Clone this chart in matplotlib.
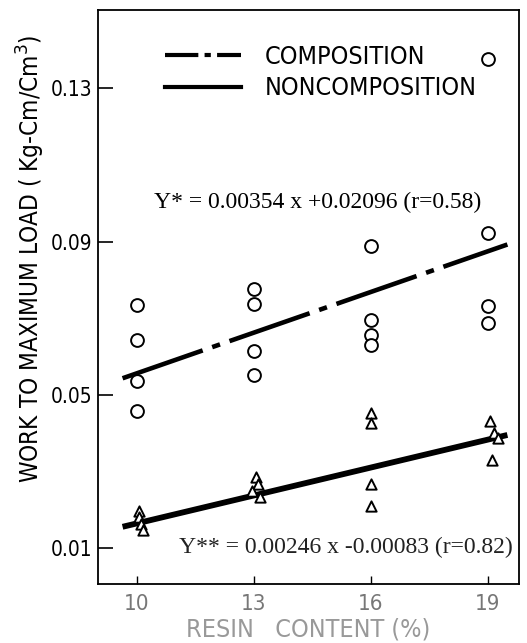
import numpy as np
import matplotlib
matplotlib.use('Agg')
import matplotlib.pyplot as plt
from matplotlib.lines import Line2D

# resin content ticks
resin = [10, 13, 16, 19]
y_ticks = [0.01, 0.05, 0.09, 0.13]

# composition (circles)
comp_x = [10, 10, 10, 10, 13, 13, 13, 13, 16, 16, 16, 16, 19, 19, 19, 19]
comp_y = [0.0734, 0.0643, 0.0536, 0.0457,
          0.0776, 0.0737, 0.0614, 0.0551,
          0.0888, 0.0695, 0.0656, 0.0630,
          0.1376, 0.0922, 0.0731, 0.0687]

# noncomposition (triangles)
noncomp_x = [10.05, 10.05, 10.1, 10.15, 13.05, 13.1, 12.95, 13.15,
             16, 16, 16, 16, 19.05, 19.15, 19.25, 19.1]
noncomp_y = [0.0197, 0.0180, 0.0163, 0.0146,
             0.0285, 0.0267, 0.0248, 0.0233,
             0.0452, 0.0426, 0.0267, 0.0210,
             0.0431, 0.0400, 0.0387, 0.0330]

# regression lines as drawn (slope, intercept) and x span
comp_fit = [0.00354, 0.0202]
noncomp_fit = [0.00243, -0.0079]
fit_span = [9.63, 19.5]

eq_comp = "Y* = 0.00354 x +0.02096 (r=0.58)"
eq_noncomp = "Y** = 0.00246 x -0.00083 (r=0.82)"

sans = dict(family='DejaVu Sans', stretch='condensed', weight='light')

fig = plt.figure(figsize=(5.27, 6.43), dpi=100)
ax = fig.add_axes([0.186, 0.092, 0.799, 0.892])

xs = np.array(fit_span)
ax.plot(xs, np.polyval(comp_fit, xs), color='black', lw=3.3,
        dashes=(18.5, 2.2, 1.8, 2.2), solid_capstyle='butt', dash_capstyle='butt')
ax.plot(xs, np.polyval(noncomp_fit, xs), color='black', lw=4.2,
        solid_capstyle='butt')

ax.scatter(comp_x, comp_y, marker='o', s=85, facecolors='white',
           edgecolors='black', linewidths=1.4, zorder=3)
ax.scatter(noncomp_x, noncomp_y, marker='^', s=55, facecolors='white',
           edgecolors='black', linewidths=1.4, zorder=3)

ax.set_xlim(9.0, 19.8)
ax.set_ylim(0.0006, 0.1504)
ax.set_xticks(resin)
ax.set_xticklabels([str(r) for r in resin], color='#777777', fontsize=16, **sans)
ax.set_yticks(y_ticks)
ax.set_yticklabels([f"{v:.2f}" for v in y_ticks], fontsize=15, **sans)
ax.tick_params(axis='y', direction='in', length=11, width=1.2, pad=4)
ax.tick_params(axis='x', direction='in', length=6, width=1.0, pad=7)
for sp in ax.spines.values():
    sp.set_linewidth(1.3)

ax.set_xlabel("RESIN   CONTENT (%)", fontsize=18, color='#999999', labelpad=3, **sans)
ax.set_ylabel("WORK TO MAXIMUM LOAD ( Kg-Cm/Cm$^3$)", fontsize=17.5, **sans)
ax.yaxis.set_label_coords(-0.12, 0.566)

ax.text(0.521, 0.6655, eq_comp, transform=ax.transAxes, ha='center', va='center',
        family='Liberation Serif', fontsize=17)
ax.text(0.589, 0.0627, eq_noncomp, transform=ax.transAxes, ha='center', va='center',
        family='Liberation Serif', fontsize=17, color='#222222')

handles = [Line2D([], [], color='black', lw=3.0, dashes=(8, 1.5, 1.5, 1.5)),
           Line2D([], [], color='black', lw=3.0)]
ax.legend(handles, ["COMPOSITION", "NONCOMPOSITION"], loc='upper left',
          bbox_to_anchor=(0.105, 0.979), frameon=False, handlelength=3.07,
          handletextpad=0.95, labelspacing=0.3, prop=dict(size=18, **sans))

fig.savefig('out.png', dpi=100)
